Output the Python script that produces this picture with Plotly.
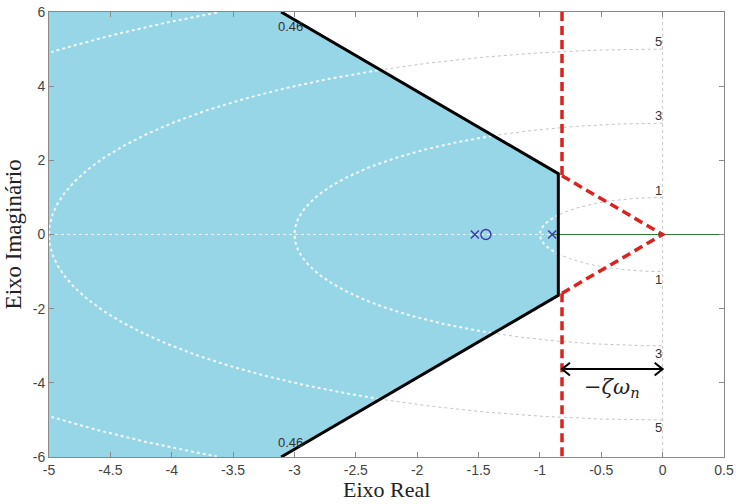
import numpy as np
import plotly.graph_objects as go

# Design constraints in the s-plane
zeta = 0.46              # damping ratio line
sigma_region = -0.85     # right edge of the shaded admissible region
sigma_limit = -0.82      # -zeta*omega_n boundary (dashed)

# Grid circles of constant natural frequency
wn_circles = [1, 3, 5, 7]
wn_labels = [1, 3, 5]

# Open-loop poles and zero
poles_re = [-1.53, -0.90]
zeros_re = [-1.44]

x_ticks = [-5, -4.5, -4, -3.5, -3, -2.5, -2, -1.5, -1, -0.5, 0, 0.5]
y_ticks = [-6, -4, -2, 0, 2, 4, 6]

X_MIN, X_MAX = -5, 0.5
Y_MIN, Y_MAX = -6, 6

slope = np.tan(np.arccos(zeta))   # |y/x| along the damping line

def region_inside(x, y):
    return (x <= sigma_region) & (np.abs(y) <= -slope * x) & (x >= X_MIN)

fig = go.Figure()

# grey natural-frequency circles (left half plane)
th = np.linspace(np.pi / 2, 3 * np.pi / 2, 600)
for r in wn_circles:
    fig.add_trace(go.Scatter(x=r * np.cos(th), y=r * np.sin(th), mode="lines",
                             line=dict(color="#c4c4c4", width=1, dash="dot"),
                             hoverinfo="skip", showlegend=False))
# imaginary axis grid line
fig.add_trace(go.Scatter(x=[0, 0], y=[Y_MIN, Y_MAX], mode="lines",
                         line=dict(color="#c8c8c8", width=1, dash="dot"),
                         hoverinfo="skip", showlegend=False))

# shaded admissible region
x_cross = -Y_MAX / slope
reg_x = [X_MIN, x_cross, sigma_region, sigma_region, x_cross, X_MIN, X_MIN]
reg_y = [Y_MAX, Y_MAX, -slope * sigma_region, slope * sigma_region, Y_MIN, Y_MIN, Y_MAX]
fig.add_trace(go.Scatter(x=reg_x, y=reg_y, mode="lines", fill="toself",
                         fillcolor="#97d6e7", line=dict(width=0),
                         hoverinfo="skip", showlegend=False))

# white circles inside the region
for r in wn_circles:
    cx = r * np.cos(th)
    cy = r * np.sin(th)
    m = region_inside(cx, cy) & (np.abs(cy) <= Y_MAX)
    cx = np.where(m, cx, np.nan)
    cy = np.where(m, cy, np.nan)
    fig.add_trace(go.Scatter(x=cx, y=cy, mode="lines", connectgaps=False,
                             line=dict(color="#f4f8f8", width=2, dash="dot"),
                             hoverinfo="skip", showlegend=False))

# real axis: white dotted inside the region, green locus branch to the right
fig.add_trace(go.Scatter(x=[X_MIN, sigma_region], y=[0, 0], mode="lines",
                         line=dict(color="#f0f0f0", width=1, dash="dot"),
                         hoverinfo="skip", showlegend=False))
fig.add_trace(go.Scatter(x=[poles_re[1], X_MAX], y=[0, 0], mode="lines",
                         line=dict(color="#2e7d32", width=1),
                         hoverinfo="skip", showlegend=False))

# black boundary of the region
fig.add_trace(go.Scatter(x=[x_cross, sigma_region, sigma_region, x_cross],
                         y=[Y_MAX, -slope * sigma_region, slope * sigma_region, Y_MIN],
                         mode="lines", line=dict(color="black", width=3),
                         hoverinfo="skip", showlegend=False))

# red dashed -zeta*wn boundary and damping lines to the origin
yl = -slope * sigma_limit
red = dict(color="#d9231f", width=3.5, dash="9px,5px")
fig.add_trace(go.Scatter(x=[sigma_limit, sigma_limit], y=[Y_MAX, yl], mode="lines",
                         line=red, hoverinfo="skip", showlegend=False))
fig.add_trace(go.Scatter(x=[sigma_limit, 0, sigma_limit], y=[yl, 0, -yl], mode="lines",
                         line=red, hoverinfo="skip", showlegend=False))
fig.add_trace(go.Scatter(x=[sigma_limit, sigma_limit], y=[-yl, Y_MIN], mode="lines",
                         line=red, hoverinfo="skip", showlegend=False))

# poles and zero
mark_col = "#3a3aa8"
fig.add_trace(go.Scatter(x=poles_re, y=[0] * len(poles_re), mode="markers",
                         marker=dict(symbol="x-thin-open", size=8, color=mark_col,
                                     line=dict(color=mark_col, width=1.4)),
                         hoverinfo="skip", showlegend=False))
fig.add_trace(go.Scatter(x=zeros_re, y=[0] * len(zeros_re), mode="markers",
                         marker=dict(symbol="circle-open", size=10, color=mark_col,
                                     line=dict(color=mark_col, width=1.4)),
                         hoverinfo="skip", showlegend=False))

# -zeta*wn dimension arrow
ya = -3.63
hx, hy = 0.065, 0.17
fig.add_trace(go.Scatter(
    x=[sigma_limit, 0, None, sigma_limit + hx, sigma_limit, sigma_limit + hx, None, -hx, 0, -hx],
    y=[ya, ya, None, ya + hy, ya, ya - hy, None, ya + hy, ya, ya - hy],
    mode="lines", line=dict(color="black", width=2),
    hoverinfo="skip", showlegend=False))

annotations = []
for w in wn_labels:
    for s in (1, -1):
        annotations.append(dict(x=-0.03, y=s * (w + 0.2), text=str(w), showarrow=False,
                                font=dict(family="Liberation Sans, Arial", size=13, color="#333")))
for s in (1, -1):
    annotations.append(dict(x=-3.03, y=s * 5.62, text=f"{zeta:.2f}", showarrow=False,
                            font=dict(family="Liberation Sans, Arial", size=13, color="#333")))
annotations.append(dict(x=sigma_limit / 2, y=-4.15,
                        text="−<i>ζω</i><sub><i>n</i></sub>", showarrow=False,
                        font=dict(family="DejaVu Serif, Liberation Serif", size=21, color="#222")))
annotations.append(dict(xref="paper", yref="paper", x=0.5, y=-0.074, yanchor="middle",
                        text="Eixo Real", showarrow=False,
                        font=dict(family="Liberation Serif, Times New Roman", size=22, color="#222")))
annotations.append(dict(xref="paper", yref="paper", x=-0.052, y=0.5, xanchor="center",
                        textangle=-90, text="Eixo Imaginário", showarrow=False,
                        font=dict(family="Liberation Serif, Times New Roman", size=23, color="#222")))

axis_common = dict(showgrid=False, zeroline=False, showline=True, linecolor="#8a8a8a",
                   linewidth=1, mirror="ticks", ticks="inside", ticklen=5,
                   tickcolor="#8a8a8a", automargin=False,
                   tickfont=dict(family="Liberation Sans, Arial", size=14, color="#444"))

fig.update_layout(
    width=736, height=504,
    margin=dict(l=49, r=12, t=12, b=47),
    paper_bgcolor="white", plot_bgcolor="white",
    xaxis=dict(range=[X_MIN, X_MAX], tickvals=x_ticks,
               ticktext=[f"{v:g}" for v in x_ticks], **axis_common),
    yaxis=dict(range=[Y_MIN, Y_MAX], tickvals=y_ticks,
               ticktext=[f"{v:g}" for v in y_ticks], **axis_common),
    annotations=annotations,
)

fig.write_html("out.html")
